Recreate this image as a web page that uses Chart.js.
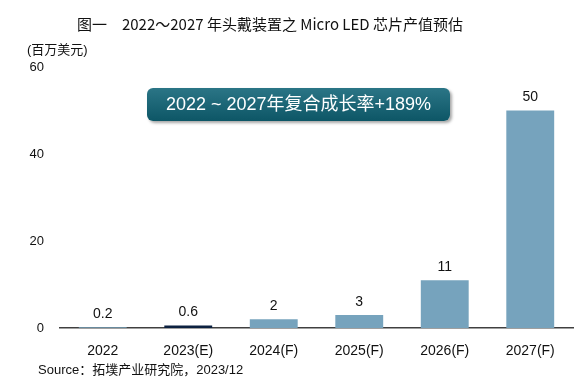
<!DOCTYPE html>
<html lang="zh">
<head>
    <meta charset="UTF-8">
    <title>头戴装置 Micro LED 芯片产值预估</title>
    <script src="https://cdn.jsdelivr.net/npm/chart.js"></script>
    <style>
        body { margin: 0; background: #fff; font-family: "Liberation Sans", "Noto Sans CJK SC", sans-serif; }
        #wrap { position: relative; width: 586px; height: 392px; }
        canvas { position: absolute; left: 0; top: 0; }
        .txt { position: absolute; white-space: nowrap; color: #111; }
        #title { left: 0; width: 540px; top: 13px; text-align: center; font-size: 15px; font-family: "Noto Sans CJK SC", sans-serif; }
        #unit { left: 27px; top: 39px; font-size: 13px; }
        #source { left: 38px; top: 359px; font-size: 13px; }
        #badge {
            position: absolute; left: 147px; top: 88px; width: 303px; height: 33px;
            border-radius: 6px; color: #fff; font-size: 18px; line-height: 33px; text-align: center;
            background: linear-gradient(#2b7586, #0d5666);
            box-shadow: 2px 2px 3px rgba(0,0,0,0.35);
        }
    </style>
</head>
<body>
<div id="wrap">
    <canvas id="chart" width="586" height="392"></canvas>
    <div class="txt" id="title">图一　2022～2027 年头戴装置之 Micro LED 芯片产值预估</div>
    <div class="txt" id="unit">(百万美元)</div>
    <div id="badge">2022 ~ 2027年复合成长率+189%</div>
    <div class="txt" id="source">Source：拓墣产业研究院，2023/12</div>
</div>

<script>
    // 数据
    const years = ['2022', '2023(E)', '2024(F)', '2025(F)', '2026(F)', '2027(F)'];
    const values = [0.2, 0.6, 2, 3, 11, 50];
    const valueLabels = ['0.2', '0.6', '2', '3', '11', '50'];
    const yTicks = [0, 20, 40, 60];

    const barColors = values.map((v, i) => i === 1 ? '#0c2140' : '#76a3bd');

    // 柱子上方数值
    const valuePlugin = {
        id: 'valueLabels',
        afterDatasetsDraw(chart) {
            const ctx = chart.ctx;
            const meta = chart.getDatasetMeta(0);
            ctx.save();
            ctx.font = '14px "Liberation Sans", Arial, sans-serif';
            ctx.fillStyle = '#111';
            ctx.textAlign = 'center';
            ctx.textBaseline = 'middle';
            meta.data.forEach((bar, i) => {
                ctx.fillText(valueLabels[i], bar.x, bar.y - 13);
            });
            ctx.restore();
        }
    };

    new Chart(document.getElementById('chart'), {
        type: 'bar',
        data: {
            labels: years,
            datasets: [{
                data: values,
                backgroundColor: barColors,
                categoryPercentage: 0.56,
                barPercentage: 1
            }]
        },
        options: {
            responsive: false,
            animation: false,
            layout: { padding: { top: 67, right: 13, bottom: 0, left: 0 } },
            plugins: { legend: { display: false }, tooltip: { enabled: false } },
            scales: {
                x: {
                    grid: { display: false },
                    border: { display: true, color: '#404040', width: 1.5 },
                    ticks: { color: '#111', font: { size: 14, family: '"Liberation Sans", Arial' }, padding: 7 },
                    afterFit(scale) { scale.height = 64; }
                },
                y: {
                    min: 0, max: 60,
                    grid: { display: false },
                    border: { display: false },
                    afterBuildTicks(scale) { scale.ticks = yTicks.map(v => ({ value: v })); },
                    ticks: { color: '#111', font: { size: 13, family: '"Liberation Sans", Arial' }, padding: 8 },
                    afterFit(scale) { scale.width = 60; }
                }
            }
        },
        plugins: [valuePlugin]
    });
</script>
</body>
</html>
